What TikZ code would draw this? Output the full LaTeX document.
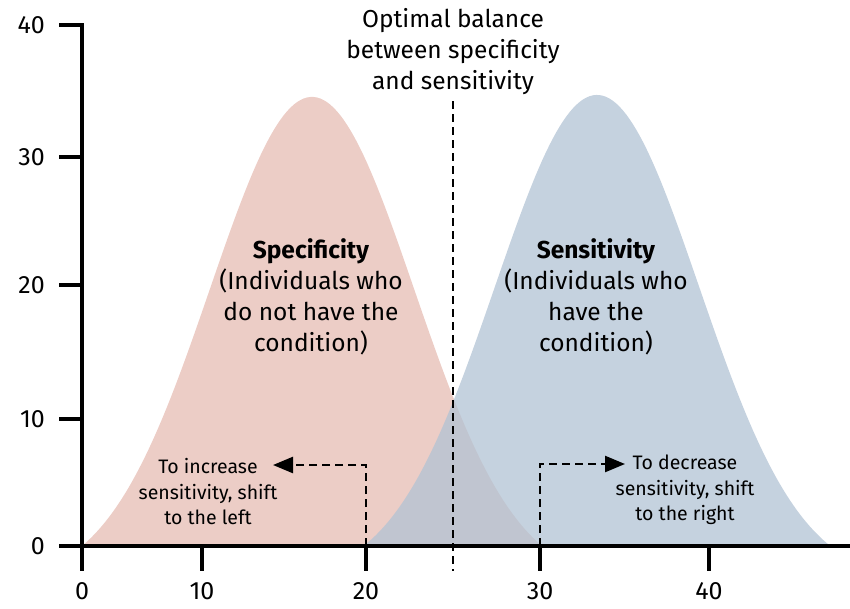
\documentclass[tikz,border=0pt]{standalone}
\usepackage{fontspec}
\setmainfont{Fira Sans}
\usetikzlibrary{arrows.meta}
\definecolor{specfill}{RGB}{236,205,198}
\definecolor{sensfill}{RGB}{178,195,212}
\begin{document}
\begin{tikzpicture}[
    x=1pt, y=-1pt,
    axis/.style={line width=3.2pt},
    dashln/.style={line width=2.4pt, dash pattern=on 8pt off 5pt},
    shiftarr/.style={dashln, -{Triangle[length=20pt,width=16pt]}},
    bigtxt/.style={font=\fontsize{24.5}{31}\selectfont, align=center, inner sep=0pt},
    smalltxt/.style={font=\fontsize{19.5}{25.5}\selectfont, align=center, inner sep=0pt},
    ticktxt/.style={font=\fontsize{25}{26}\selectfont, inner sep=0pt}
  ]
  \useasboundingbox (0,0) rectangle (850,608);

  % the two bell curves (truncated gaussians)
  \fill[specfill] plot[domain=82:542, samples=140]
    (\x, {546 - 449*(exp(-((\x-312)/102)^2/2)-0.0787)/0.9213});
  \fill[sensfill, opacity=0.75] plot[domain=366:830, samples=140]
    (\x, {546 - 451*(exp(-((\x-597)/102)^2/2)-0.0730)/0.9270});

  % axes
  \draw[axis] (61,546) -- (850,546);
  \draw[axis] (82,23) -- (82,571);
  \foreach \px/\lab in {82/0, 202/10, 366/20, 540/30, 709/40} {
    \draw[axis] (\px,546) -- (\px,571);
    \node[ticktxt] (xt\lab) at (\px,591) {\lab};
  }
  \foreach \py/\lab in {546/0, 419/10, 285/20, 157/30, 25/40} {
    \draw[axis] (59,\py) -- (82,\py);
    \node[ticktxt, anchor=east] (yt\lab) at (45,\py) {\lab};
  }

  % optimal balance
  \node[bigtxt] (optimal) at (453,52) {Optimal balance\\between specificity\\and sensitivity};
  \coordinate (optbase) at (453,571);
  \draw[dashln] (optimal.south |- 0,101) -- (optbase);

  % curve labels
  \node[bigtxt] (spec) at (311,297) {\textbf{Specificity}\\(Individuals who\\do not have the\\condition)};
  \node[bigtxt] (sens) at (596,297) {\textbf{Sensitivity}\\(Individuals who\\have the\\condition)};

  % shift hints
  \coordinate (lbase) at (366,546);
  \coordinate (ltip) at (273,465);
  \node[smalltxt] (incr) at (208,492) {To increase\\sensitivity, shift\\to the left};
  \draw[shiftarr] (lbase) |- (ltip);

  \coordinate (rbase) at (540,546);
  \coordinate (rtip) at (625,464);
  \node[smalltxt] (decr) at (685,490) {To decrease\\sensitivity, shift\\to the right};
  \draw[shiftarr] (rbase) |- (rtip);
\end{tikzpicture}
\end{document}
